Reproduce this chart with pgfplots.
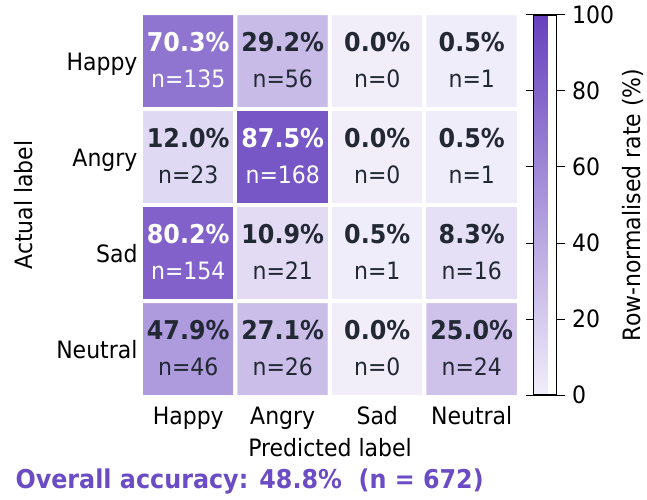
\documentclass[border=0pt]{standalone}
\usepackage{pgfplots}
\pgfplotsset{compat=1.18}
\usepackage{pgfplotstable}
\usepackage{fontspec}
\setmainfont{DejaVu Sans}[FakeStretch=0.92]
\definecolor{txtdark}{RGB}{34,40,52}
\definecolor{titlepurple}{RGB}{108,76,196}

\pgfplotstableread{
x y v n
0 0 70.3 135
1 0 29.2 56
2 0 0.0 0
3 0 0.5 1
0 1 12.0 23
1 1 87.5 168
2 1 0.0 0
3 1 0.5 1
0 2 80.2 154
1 2 10.9 21
2 2 0.5 1
3 2 8.3 16
0 3 47.9 46
1 3 27.1 26
2 3 0.0 0
3 3 25.0 24
}\cm

% cells whose labels are set in white
\pgfplotstableread{
x y v n
0 0 70.3 135
1 1 87.5 168
0 2 80.2 154
}\cmW

% cells whose labels are set in dark grey
\pgfplotstableread{
x y v n
1 0 29.2 56
2 0 0.0 0
3 0 0.5 1
0 1 12.0 23
2 1 0.0 0
3 1 0.5 1
1 2 10.9 21
2 2 0.5 1
3 2 8.3 16
0 3 47.9 46
1 3 27.1 26
2 3 0.0 0
3 3 25.0 24
}\cmD

\pgfplotsset{
 pctlab/.style={draw=none, mark=none, point meta=explicit symbolic,
   nodes near coords={\textbf{\pgfplotspointmeta\%}},
   every node near coord/.append style={anchor=center, yshift=19bp, text=#1, font=\fontsize{26}{30}\selectfont}},
 nlab/.style={draw=none, mark=none, point meta=explicit symbolic,
   nodes near coords={n=\pgfplotspointmeta},
   every node near coord/.append style={anchor=center, yshift=-18bp, text=#1, font=\fontsize{24}{28}\selectfont}},
}

\begin{document}
\begin{tikzpicture}
\begin{axis}[
 at={(0,0)}, anchor=south west,
 scale only axis, width=378bp, height=384bp,
 xmin=-0.5, xmax=3.5, ymin=-0.5, ymax=3.5,
 y dir=reverse,
 axis line style={draw=none},
 major tick length=0pt,
 xtick={0,1,2,3}, xticklabels={Happy,Angry,Sad,Neutral},
 ytick={0,1,2,3}, yticklabels={Happy,Angry,Sad,Neutral},
 tick label style={font=\fontsize{24}{28}\selectfont, text=black},
 y tick label style={text height=18.2bp, text depth=0pt},
 x tick label style={text height=18.2bp, text depth=5.8bp, yshift=-6bp},
 label style={font=\fontsize{24}{28}\selectfont},
 xlabel={Predicted label}, ylabel={Actual label},
 xlabel style={yshift=-1bp},
 ylabel style={yshift=17bp},
 colormap={purp}{rgb255=(241,238,250) rgb255=(103,65,190)},
 point meta min=0, point meta max=100,
 colorbar,
 colorbar style={
   at={(parent axis.north east)}, anchor=north west, xshift=6bp,
   scale only axis, width=23bp, height=380bp, yshift=-2bp,
   ytick={0,20,40,60,80,100},
   yticklabel pos=right,
   tick align=outside,
   major tick length=8bp,
   ytick style={draw=black, line width=1bp},
   axis line style={draw=black, line width=1.2bp},
   tick label style={font=\fontsize{24}{28}\selectfont},
   y tick label style={text height=17.5bp, text depth=0pt, xshift=4bp},
   ylabel={Row-normalised rate (\%)},
   ylabel style={font=\fontsize{24}{28}\selectfont, yshift=-1bp},
   /pgf/number format/assume math mode=true,
 },
 /pgf/number format/assume math mode=true,
 enlargelimits=false,
 clip=false,
]
\addplot[matrix plot*, mesh/cols=4, point meta=explicit, draw=white, line width=4bp]
  table[x=x, y=y, meta=v]{\cm};
\addplot[pctlab=white] table[x=x, y=y, meta=v]{\cmW};
\addplot[nlab=white] table[x=x, y=y, meta=n]{\cmW};
\addplot[pctlab=txtdark] table[x=x, y=y, meta=v]{\cmD};
\addplot[nlab=txtdark] table[x=x, y=y, meta=n]{\cmD};
\end{axis}
\node[anchor=base west, text=titlepurple, font=\bfseries\fontsize{26}{30}\selectfont]
  at (-129bp,-91bp) {Overall accuracy: 48.8\%\ \ (n = 672)};
\pgfresetboundingbox
\path[use as bounding box] (-141bp,-103bp) rectangle (506bp,397bp);
\end{tikzpicture}
\end{document}
